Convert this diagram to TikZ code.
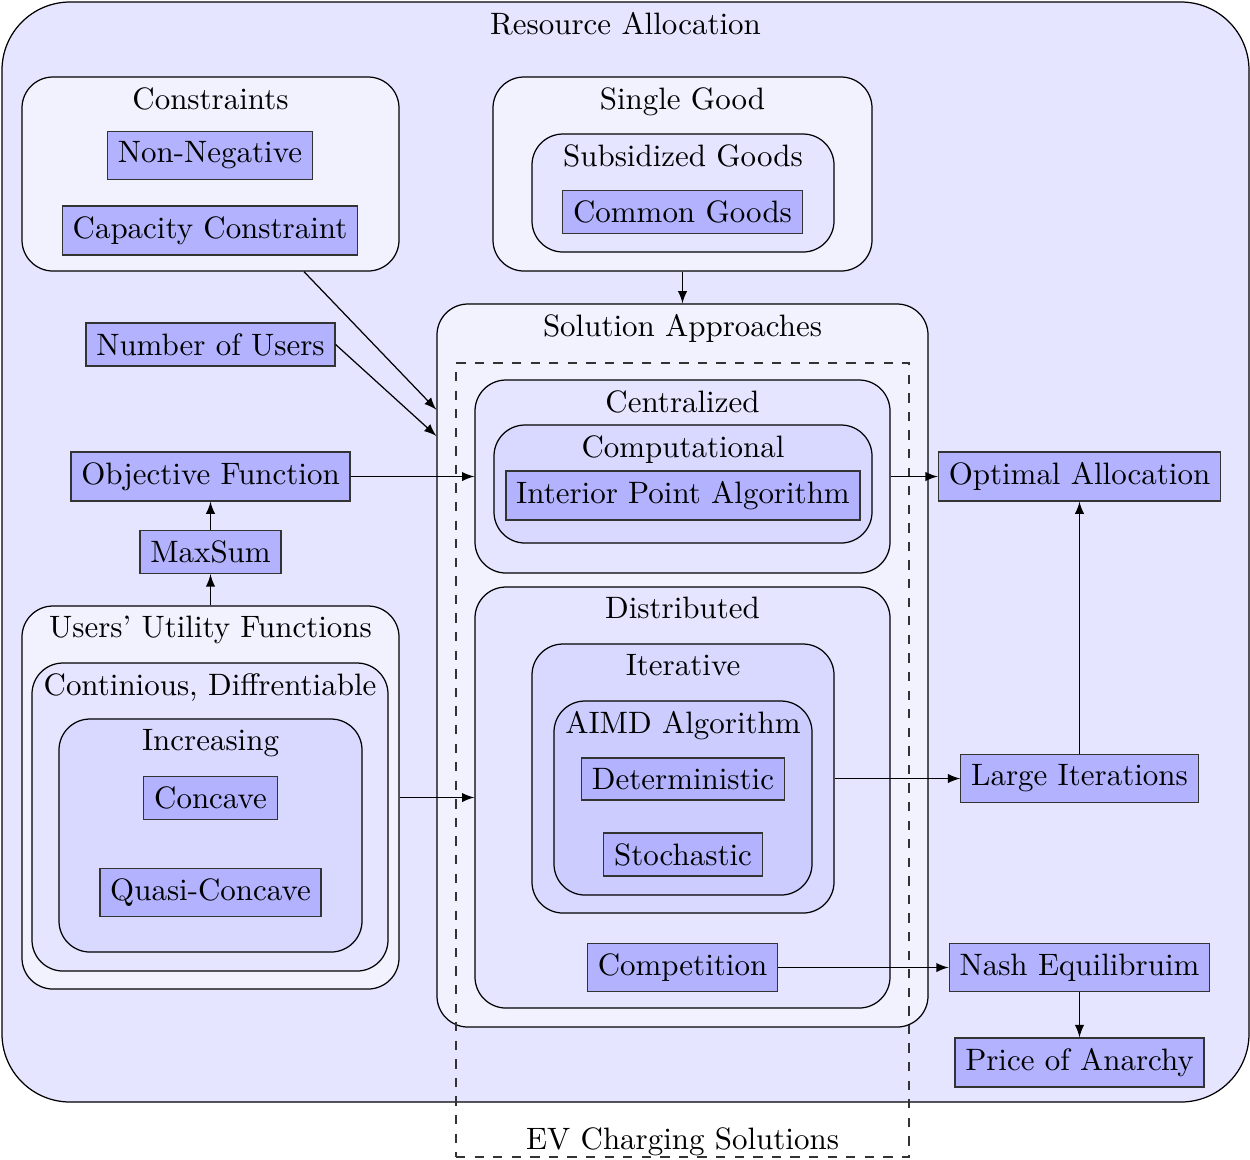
\documentclass[tikz,border=0pt]{standalone}
\usetikzlibrary{fit,arrows}
\begin{document}
\begin{tikzpicture}[x=0.323pt,y=-0.323pt,>=latex,
  box/.style={draw=black,rounded corners=10pt,inner sep=0pt},
  leaf/.style={draw=black!80,fill=blue!30},
  ttl/.style={anchor=north},
  conn/.style={->}]
\useasboundingbox[fill=white] (0,0) rectangle (1250,1159);
% outer
\node[box,rounded corners=22pt,fill=blue!10,fit={(2,2)(1249,1102)}] (ra) {};
\node[ttl] (ratitle) at (ra.north) {Resource Allocation};
% constraints
\node[box,fill=blue!5,fit={(22,77)(399,271)}] (constraints) {};
\node[ttl] (constraintstitle) at (constraints.north) {Constraints};
\node[leaf] (nonneg) at (210,155.5) {Non-Negative};
\node[leaf] (capacity) at (210,230.5) {Capacity Constraint};
% single good
\node[box,fill=blue!5,fit={(493,77)(872,271)}] (single) {};
\node[ttl] (singletitle) at (single.north) {Single Good};
\node[box,fill=blue!10,fit={(532,134)(834,252)}] (subsidized) {};
\node[ttl] (subsidizedtitle) at (subsidized.north) {Subsidized Goods};
\node[leaf] (common) at (682.5,212) {Common Goods};
% left column
\node[leaf] (numusers) at (210.5,344.5) {Number of Users};
\node[leaf] (objective) at (210.5,476.5) {Objective Function};
\node[leaf] (maxsum) at (210.5,552) {MaxSum};
\node[box,fill=blue!5,fit={(22,606)(399,989)}] (users) {};
\node[ttl] (userstitle) at (users.north) {Users' Utility Functions};
\node[box,fill=blue!10,fit={(32,663)(388,971)}] (continuous) {};
\node[ttl] (continuoustitle) at (continuous.north) {Continious, Diffrentiable};
\node[box,fill=blue!15,fit={(59,719)(362,952)}] (increasing) {};
\node[ttl] (increasingtitle) at (increasing.north) {Increasing};
\node[leaf] (concave) at (210.5,798) {Concave};
\node[leaf] (quasi) at (210.5,892.5) {Quasi-Concave};
% solution approaches
\node[box,fill=blue!5,fit={(437,304)(928,1027)}] (solution) {};
\node[ttl] (solutiontitle) at (solution.north) {Solution Approaches};
\node[draw=black!80,dashed,inner sep=0pt,fit={(456,363)(909,1157)}] (ev) {};
\node[anchor=base,yshift=2.6pt] (evtitle) at (ev.south) {EV Charging Solutions};
\node[box,fill=blue!10,fit={(475,380)(890,573)}] (centralized) {};
\node[ttl] (centralizedtitle) at (centralized.north) {Centralized};
\node[box,fill=blue!15,fit={(494,425)(872,543)}] (computational) {};
\node[ttl] (computationaltitle) at (computational.north) {Computational};
\node[leaf] (interior) at (683,495.5) {Interior Point Algorithm};
\node[box,fill=blue!10,fit={(475,587)(890,1008)}] (distributed) {};
\node[ttl] (distributedtitle) at (distributed.north) {Distributed};
\node[box,fill=blue!15,fit={(532,644)(834,913)}] (iterative) {};
\node[ttl] (iterativetitle) at (iterative.north) {Iterative};
\node[box,fill=blue!20,fit={(554,701)(812,895)}] (aimd) {};
\node[ttl] (aimdtitle) at (aimd.north) {AIMD Algorithm};
\node[leaf] (deterministic) at (683,779) {Deterministic};
\node[leaf] (stochastic) at (683,854.5) {Stochastic};
\node[leaf] (competition) at (682.5,967.5) {Competition};
% right column
\node[leaf] (optimal) at (1079.5,476.5) {Optimal Allocation};
\node[leaf] (large) at (1079.5,778.5) {Large Iterations};
\node[leaf] (nash) at (1079.5,967.5) {Nash Equilibruim};
\node[leaf] (price) at (1079.5,1062.5) {Price of Anarchy};
% connectors
\draw[conn] (single) -- (solution);
\draw[conn] (constraints) -- (solution);
\draw[conn] (numusers.east) -- (solution.137);
\draw[conn] (objective) -- (centralized);
\draw[conn] (maxsum) -- (objective);
\draw[conn] (users) -- (maxsum);
\draw[conn] (users) -- (distributed);
\draw[conn] (centralized) -- (optimal);
\draw[conn] (iterative) -- (large);
\draw[conn] (large) -- (optimal);
\draw[conn] (competition) -- (nash);
\draw[conn] (nash) -- (price);
\end{tikzpicture}
\end{document}
